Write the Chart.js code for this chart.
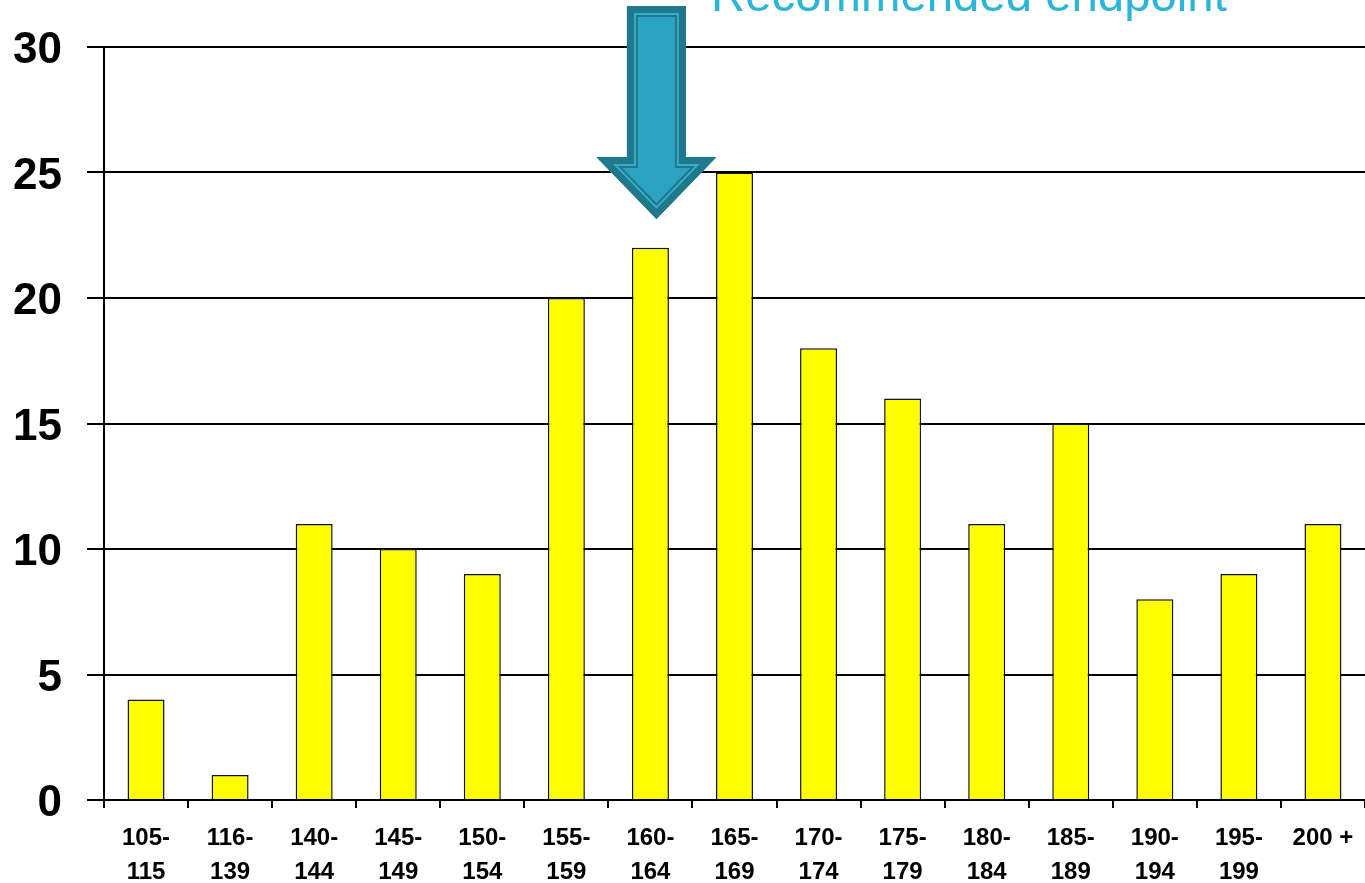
<!DOCTYPE html>
<html>
<head>
<meta charset="utf-8">
<script src="https://cdn.jsdelivr.net/npm/chart.js"></script>
<style>
  html, body { margin: 0; padding: 0; background: #fff; }
  #wrap { width: 1365px; height: 883px; position: relative; }
</style>
</head>
<body>
<div id="wrap"><canvas id="chart"></canvas></div>
<script>
// data
const categories = ['105-115', '116-139', '140-144', '145-149', '150-154', '155-159', '160-164',
  '165-169', '170-174', '175-179', '180-184', '185-189', '190-194', '195-199', '200 +'];
const counts = [4, 1, 11, 10, 9, 20, 22, 25, 18, 16, 11, 15, 8, 9, 11];
const yTicks = [0, 5, 10, 15, 20, 25, 30];

// annotation
const noteText = 'Recommended endpoint';
const arrowAt = '160-164';
const arrowTop = 31.63, arrowNeck = 25.62, arrowTip = 23.15;

const arrowPlugin = {
  id: 'arrow',
  afterDatasetsDraw(chart) {
    const { ctx, scales: { x, y } } = chart;
    const cx = x.getPixelForValue(categories.indexOf(arrowAt)) + 6;
    const top = y.getPixelForValue(arrowTop);
    const neck = y.getPixelForValue(arrowNeck);
    const tip = y.getPixelForValue(arrowTip);
    const sw = 29.5, hw = 60;

    ctx.save();
    ctx.beginPath();
    ctx.moveTo(cx - sw, top);
    ctx.lineTo(cx + sw, top);
    ctx.lineTo(cx + sw, neck);
    ctx.lineTo(cx + hw, neck);
    ctx.lineTo(cx, tip);
    ctx.lineTo(cx - hw, neck);
    ctx.lineTo(cx - sw, neck);
    ctx.closePath();
    ctx.clip();
    ctx.fillStyle = '#2ca3c0';
    ctx.fill();
    ctx.lineJoin = 'miter';
    ctx.strokeStyle = '#1f788b';
    ctx.lineWidth = 22;
    ctx.stroke();
    ctx.strokeStyle = '#35adc9';
    ctx.lineWidth = 18;
    ctx.stroke();
    ctx.strokeStyle = '#1f788b';
    ctx.lineWidth = 14;
    ctx.stroke();
    ctx.restore();

    ctx.save();
    ctx.font = '44px "Liberation Sans", Arial, sans-serif';
    const w = ctx.measureText(noteText).width;
    const size = 44 * 516 / w;
    ctx.font = size + 'px "Liberation Sans", Arial, sans-serif';
    ctx.fillStyle = '#2bb5d6';
    ctx.textBaseline = 'alphabetic';
    ctx.textAlign = 'left';
    ctx.fillText(noteText, 711, 11);
    ctx.restore();
  }
};

new Chart(document.getElementById('chart'), {
  type: 'bar',
  data: {
    labels: categories,
    datasets: [{
      data: counts,
      backgroundColor: '#ffff00',
      borderColor: '#111',
      borderWidth: 1.5,
      barPercentage: 0.44,
      categoryPercentage: 1.0
    }]
  },
  options: {
    responsive: true,
    maintainAspectRatio: false,
    animation: false,
    layout: { padding: { top: 47, right: 0, left: 0, bottom: 0 } },
    plugins: {
      legend: { display: false },
      tooltip: { enabled: false }
    },
    scales: {
      x: {
        grid: {
          offset: true,
          drawOnChartArea: false,
          drawTicks: true,
          tickLength: 8,
          color: '#000',
          lineWidth: 2
        },
        border: { color: '#000', width: 2 },
        ticks: {
          color: '#000',
          padding: 14,
          maxRotation: 0,
          autoSkip: false,
          font: { family: '"Liberation Sans", Arial, sans-serif', size: 24, weight: 'bold', lineHeight: 1.4 },
          callback(value) {
            const s = categories[value];
            const i = s.indexOf('-');
            return i < 0 ? s : [s.slice(0, i + 1), s.slice(i + 1)];
          }
        },
        afterFit(scale) {
          scale.height = 83;
          scale.paddingLeft = 0;
          scale.paddingRight = 0;
        }
      },
      y: {
        min: 0,
        max: 30,
        afterBuildTicks(scale) { scale.ticks = yTicks.map(v => ({ value: v })); },
        grid: {
          color: '#000',
          lineWidth: 2,
          tickLength: 17
        },
        border: { color: '#000', width: 2 },
        ticks: {
          color: '#000',
          padding: 25,
          labelOffset: 4,
          font: { family: '"Liberation Sans", Arial, sans-serif', size: 44, weight: 'bold' }
        },
        afterFit(scale) {
          scale.width = 104;
          scale.paddingTop = 0;
          scale.paddingBottom = 0;
        }
      }
    }
  },
  plugins: [arrowPlugin]
});
</script>
</body>
</html>
